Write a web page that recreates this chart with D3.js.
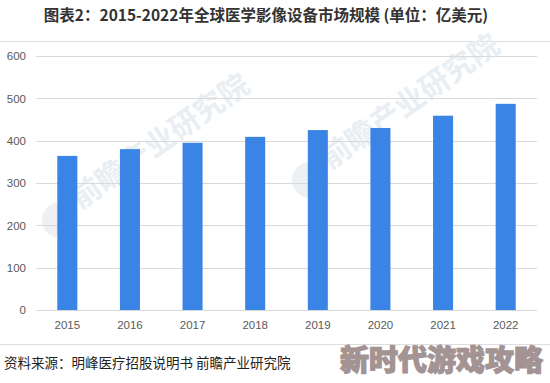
<!DOCTYPE html>
<html>
<head>
<meta charset="utf-8">
<script src="https://cdn.jsdelivr.net/npm/d3@7/dist/d3.min.js"></script>
<style>
  body { margin: 0; background: #fff; }
  svg { display: block; font-family: "Microsoft YaHei", "Noto Sans CJK SC", sans-serif; }
</style>
</head>
<body>
<svg width="550" height="383"></svg>
<script>
// 2015-2022 global medical imaging equipment market size (unit: 100M USD)
var years = ["2015", "2016", "2017", "2018", "2019", "2020", "2021", "2022"];
var values = [364, 380, 395, 409, 425, 430, 459, 487];
var yTicks = [0, 100, 200, 300, 400, 500, 600];

var titleText = "图表2：2015-2022年全球医学影像设备市场规模 (单位：亿美元)";
var sourceText = "资料来源：明峰医疗招股说明书 前瞻产业研究院";
var stampText = "新时代游戏攻略";

var svg = d3.select("svg");
var width = 550, height = 383;
var margin = {left: 36, right: 13, top: 56, bottom: 73};

var x = d3.scaleBand()
  .domain(years)
  .range([margin.left, width - margin.right])
  .paddingInner(0.68)
  .paddingOuter(0.34);

var y = d3.scaleLinear()
  .domain([0, 600])
  .range([height - margin.bottom, margin.top]);

// title
svg.append("text")
  .attr("x", 266)
  .attr("y", 21)
  .attr("text-anchor", "middle")
  .attr("font-size", 15.5)
  .attr("font-weight", "bold")
  .attr("fill", "#333")
  .text(titleText);

svg.append("line")
  .attr("x1", 0).attr("x2", width)
  .attr("y1", 41.5).attr("y2", 41.5)
  .attr("stroke", "#ddd");

// faint watermark logo text inside the plot
var wm = svg.append("g").attr("fill", "#e9eef3").attr("font-weight", "bold");
[[150, 190], [400, 150]].forEach(function(p) {
  wm.append("circle").attr("cx", p[0] - 90).attr("cy", p[1] + 30).attr("r", 18).attr("fill", "#eef1f4");
  wm.append("text")
    .attr("transform", "translate(" + (p[0] - 70) + "," + (p[1] + 20) + ") rotate(-35)")
    .attr("font-size", 30)
    .text("前瞻产业研究院");
});

// gridlines
svg.append("g")
  .selectAll("line")
  .data(yTicks)
  .enter().append("line")
    .attr("x1", margin.left)
    .attr("x2", width - margin.right)
    .attr("y1", function(d) { return Math.round(y(d)) + 0.5; })
    .attr("y2", function(d) { return Math.round(y(d)) + 0.5; })
    .attr("stroke", "#d9d9d9");

// y axis labels
var yAxis = d3.axisLeft(y).tickValues(yTicks).tickSize(0).tickPadding(8);
svg.append("g")
  .attr("transform", "translate(" + (margin.left - 2) + ",0)")
  .call(yAxis)
  .call(function(g) { g.select(".domain").remove(); })
  .selectAll("text")
    .attr("font-size", 11.5)
    .attr("fill", "#595959")
    .attr("font-family", "Liberation Sans, Arial, sans-serif");

// x axis labels
var xAxis = d3.axisBottom(x).tickSize(0).tickPadding(11);
svg.append("g")
  .attr("transform", "translate(0," + y(0) + ")")
  .call(xAxis)
  .call(function(g) { g.select(".domain").remove(); })
  .selectAll("text")
    .attr("font-size", 11.5)
    .attr("fill", "#595959")
    .attr("font-family", "Liberation Sans, Arial, sans-serif");

// bars
svg.append("g")
  .selectAll("rect")
  .data(values)
  .enter().append("rect")
    .attr("x", function(d, i) { return x(years[i]); })
    .attr("y", function(d) { return y(d); })
    .attr("width", x.bandwidth())
    .attr("height", function(d) { return y(0) - y(d); })
    .attr("fill", "#3a84e6");

// footer
svg.append("line")
  .attr("x1", 0).attr("x2", width)
  .attr("y1", 344.5).attr("y2", 344.5)
  .attr("stroke", "#ddd");

svg.append("text")
  .attr("x", 4)
  .attr("y", 368)
  .attr("font-size", 13.5)
  .attr("fill", "#222")
  .text(sourceText);

svg.append("text")
  .attr("x", 340)
  .attr("y", 371)
  .attr("font-size", 29)
  .attr("font-weight", "900")
  .attr("fill", "#a39393")
  .attr("stroke", "#a39393")
  .attr("stroke-width", 1.2)
  .text(stampText);
</script>
</body>
</html>
